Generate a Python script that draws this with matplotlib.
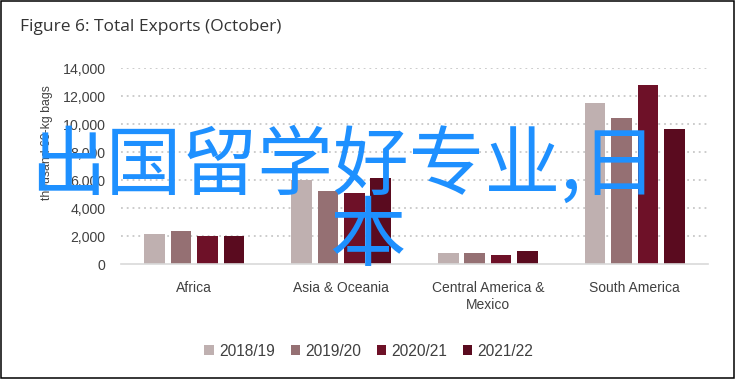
import matplotlib
matplotlib.use("Agg")
import matplotlib.pyplot as plt
from matplotlib.patches import Rectangle
import numpy as np

categories = ["Africa", "Asia & Oceania", "Central America &\nMexico", "South America"]
seasons = ["2018/19", "2019/20", "2020/21", "2021/22"]
v2018 = [2150, 6000, 800, 11550]
v2019 = [2400, 5250, 800, 10450]
v2020 = [2050, 5100, 700, 12800]
v2021 = [2050, 6150, 950, 9650]
yticks = [0, 2000, 4000, 6000, 8000, 10000, 12000, 14000]
colors = ["#BFB0B0", "#957073", "#6E1128", "#5A0B1F"]

title = "Figure 6: Total Exports (October)"
ylabel = "thousand 60-kg bags"
overlay1 = "出国留学好专业,日"
overlay2 = "本"

W, H = 736, 380
fig = plt.figure(figsize=(W / 100, H / 100), dpi=100)
ax = fig.add_axes([121 / W, (H - 264.3) / H, 587 / W, 196 / H])

series = [v2018, v2019, v2020, v2021]
x = np.arange(len(categories))
pitch = 0.18
bw = 0.14
for i, (vals, c, lab) in enumerate(zip(series, colors, seasons)):
    ax.bar(x + (i - 1.5) * pitch, vals, width=bw, color=c, label=lab, zorder=3)

ax.set_xlim(-0.5, len(categories) - 0.5)
ax.set_ylim(0, 14000)
ax.set_yticks(yticks)
ax.set_yticklabels([f"{v:,}" for v in yticks], family=["Liberation Sans", "DejaVu Sans"],
                   fontsize=10.2, color="#404040")
ax.set_xticks(x)
ax.set_xticklabels(categories, family=["Liberation Sans", "DejaVu Sans"],
                   fontsize=10, color="#404040", linespacing=1.3)
ax.tick_params(axis="both", length=0)
ax.tick_params(axis="y", pad=11)
ax.tick_params(axis="x", pad=12)
for s in ["top", "right", "left"]:
    ax.spines[s].set_visible(False)
ax.spines["bottom"].set_color("#d9d9d9")
ax.spines["bottom"].set_linewidth(1.2)
ax.spines["bottom"].set_zorder(4)
for t in yticks[1:]:
    ax.axhline(t, color="#c8c8c8", linewidth=1.3, linestyle=(0, (1, 2.2)), zorder=1)

fig.text(47 / W, (H - 143) / H, ylabel, rotation=90, ha="center", va="center",
         family=["Liberation Sans", "DejaVu Sans"], fontsize=8.8, color="#404040")

fig.text(20 / W, (H - 27) / H, title, ha="left", va="center",
         family=["Open Sans", "DejaVu Sans"], fontsize=12.5, color="#333333")

handles, labels = ax.get_legend_handles_labels()
leg = fig.legend(handles, labels, loc="center", bbox_to_anchor=(369 / W, (H - 351) / H),
                 ncol=4, frameon=False, handlelength=0.6, handleheight=0.6,
                 handletextpad=0.35, columnspacing=1.0,
                 prop={"family": ["Liberation Sans", "DejaVu Sans"], "size": 11.2})
for t in leg.get_texts():
    t.set_color("#404040")

fig.text(344 / W, (H - 167) / H, overlay1, ha="center", va="center",
         family=["Noto Sans CJK SC", "DejaVu Sans"], fontsize=54.5, color="#1E90FF", zorder=10)
fig.text(367 / W, (H - 238) / H, overlay2, ha="center", va="center",
         family=["Noto Sans CJK SC", "DejaVu Sans"], fontsize=55, color="#1E90FF", zorder=10)

fig.patches.append(Rectangle((0.8 / W, 2 / H), 733 / W, 377.2 / H, transform=fig.transFigure,
                             fill=False, edgecolor="black", linewidth=1.1, zorder=20))

fig.savefig("out.png", dpi=100)
